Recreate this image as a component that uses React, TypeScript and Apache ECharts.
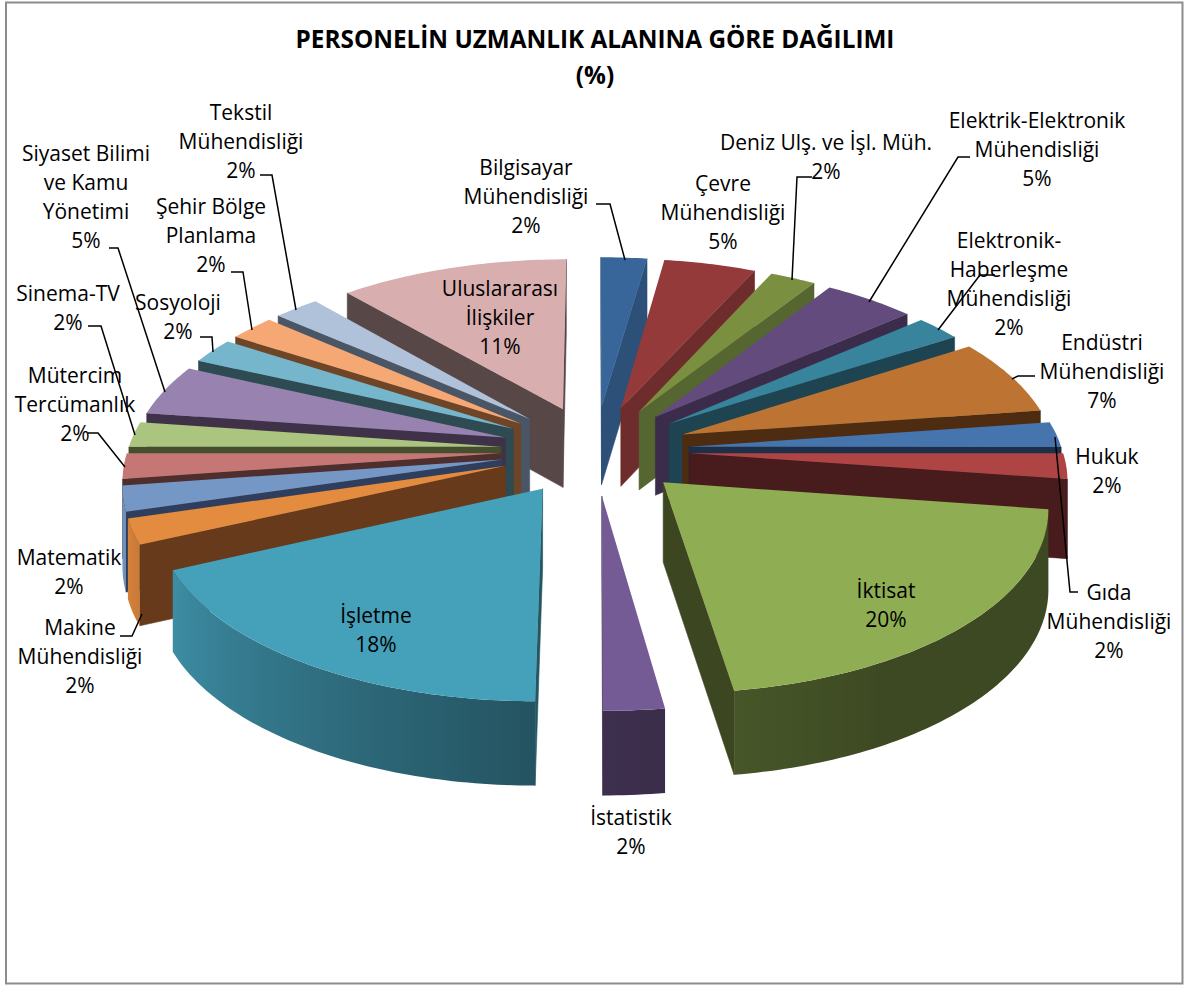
import React, { useEffect, useRef } from "react";
import * as echarts from "echarts";

const TITLE = "PERSONELİN UZMANLIK ALANINA GÖRE DAĞILIMI\n(%)";
const NAMES = [
  "Bilgisayar\nMühendisliği", "Çevre\nMühendisliği", "Deniz Ulş. ve İşl. Müh.",
  "Elektrik-Elektronik\nMühendisliği", "Elektronik-\nHaberleşme\nMühendisliği", "Endüstri\nMühendisliği",
  "Gıda\nMühendisliği", "Hukuk", "İktisat", "İstatistik", "İşletme", "Makine\nMühendisliği", "Matematik",
  "Mütercim\nTercümanlık", "Sinema-TV", "Siyaset Bilimi\nve Kamu\nYönetimi", "Sosyoloji",
  "Şehir Bölge\nPlanlama", "Tekstil\nMühendisliği", "Uluslararası\nİlişkiler",
];
const VALUES = [2.27, 4.55, 2.27, 4.55, 2.27, 6.82, 2.27, 2.27, 20.45, 2.27, 18.18, 2.27, 2.27, 2.27, 2.27, 4.55, 2.27, 2.27, 2.27, 11.36];
const TOP_COLORS = ["#38659A", "#953A3A", "#7A9040", "#634C7D", "#37849C", "#BD7433", "#4674AD", "#AE4544", "#8FAD52", "#755B95", "#45A0BA", "#E38B3E", "#7597C5", "#C47775", "#ABC47F", "#9882B0", "#76B6CC", "#F6A874", "#B0C1DA", "#D8AEAE"];
const WALL_COLORS = ["#2C5078", "#6F2C2C", "#556630", "#3C2C4B", "#1D4450", "#4E2C12", "#1E3049", "#481B1C", "#3C4620", "#3D2C4D", "#255763", "#663A1B", "#2E3E5C", "#4F2E2E", "#454F2F", "#3F3248", "#2E4B54", "#6E4526", "#4A5566", "#574747"];
// label centre x, first line centre y
const LABEL_POS: number[][] = [[526, 167], [723, 183], [826, 142], [1037, 120], [1009, 240], [1102, 342], [1109, 592], [1107, 456], [886, 590], [631, 817], [376, 615], [80, 627], [69, 557], [75, 375], [68, 293], [86, 153], [178, 302], [211, 206], [241, 112], [500, 288]];
const LEADERS: number[][][] = [
  [[596, 204], [610, 204], [625, 260]],
  [[812, 177], [797, 177], [792, 280]],
  [[970, 157], [958, 157], [869, 302]],
  [[995, 275], [980, 275], [938, 330]],
  [[1035, 376], [1018, 376], [1012, 379]],
  [[1055, 437], [1070, 592], [1078, 592]],
  [[260, 175], [272, 175], [296, 310]],
  [[231, 272], [243, 272], [252, 330]],
  [[200, 337], [212, 337], [213, 352]],
  [[109, 248], [118, 248], [165, 392]],
  [[88, 326], [101, 326], [135, 435]],
  [[88, 433], [98, 433], [125, 467]],
  [[120, 636], [132, 636], [142, 614]],
];

const CX = 595, CY = 450, A = 373, B = 177, K = 0.12, EXPLODE = 0.253, DEPTH = 79;
const FONT = "'Open Sans', Lato, sans-serif";

const total = VALUES.reduce((a, b) => a + b, 0);
const starts: number[] = [];
VALUES.reduce((acc, v, i) => { starts[i] = acc; return acc + v; }, 0);

function project(X: number, Y: number, low: boolean): number[] {
  const s = 1 / (1 - K * Y);
  const d = low ? DEPTH * (0.6 + 0.4 * s) : 0;
  return [CX + A * X * s, CY + B * Y * s + d];
}
function shade(deg: number): number {
  const stops = [[0, 0.42], [150, 0.42], [172, 0.5], [180, 0.52], [245, 0.88], [262, 1], [360, 1]];
  for (let i = 1; i < stops.length; i++) {
    if (deg <= stops[i][0]) {
      const t = (deg - stops[i - 1][0]) / (stops[i][0] - stops[i - 1][0]);
      return stops[i - 1][1] + t * (stops[i][1] - stops[i - 1][1]);
    }
  }
  return 1;
}
function darken(hex: string, f: number): string {
  const n = parseInt(hex.slice(1), 16);
  const c = [(n >> 16) & 255, (n >> 8) & 255, n & 255].map((v) => Math.round(v * f));
  return `rgb(${c[0]},${c[1]},${c[2]})`;
}

function renderSlice(params: any, api: any) {
  const i = params.dataIndex;
  const value = api.value(0);
  const a0 = (starts[i] / total) * 360;
  const a1 = a0 + (value / total) * 360;
  const mid = ((a0 + a1) / 2) * Math.PI / 180;
  const ox = Math.sin(mid) * EXPLODE, oy = -Math.cos(mid) * EXPLODE;
  const order = Math.round((oy / EXPLODE + 1) * 1000);
  const angs: number[] = [];
  const n = Math.max(2, Math.ceil(a1 - a0));
  for (let k = 0; k <= n; k++) angs.push(a0 + ((a1 - a0) * k) / n);
  const ground = angs.map((d) => {
    const r = (d * Math.PI) / 180;
    return [ox + Math.sin(r), oy - Math.cos(r)];
  });
  const pt = (g: number[], low: boolean) => project(g[0], g[1], low);
  const children: any[] = [];
  const apex = [ox, oy];
  const wall = (p: number[], q: number[], fill: string, z: number) => {
    const a = pt(p, false), b = pt(q, false);
    if (b[0] >= a[0]) return;
    children.push({
      type: "polygon", z2: order * 10 + z,
      shape: { points: [a, b, pt(q, true), pt(p, true)] },
      style: { fill, stroke: fill, lineWidth: 0.6 },
    });
  };
  wall(apex, ground[0], WALL_COLORS[i], 1);
  wall(ground[ground.length - 1], apex, WALL_COLORS[i], 1);

  // outer curved wall: the part facing the viewer, one polygon with a left-to-right shading gradient
  const vis: number[] = [];
  for (let k = 0; k <= n; k++) {
    const prevFront = k > 0 && pt(ground[k], false)[0] < pt(ground[k - 1], false)[0];
    const nextFront = k < n && pt(ground[k + 1], false)[0] < pt(ground[k], false)[0];
    if (prevFront || nextFront) vis.push(k);
  }
  if (vis.length > 1) {
    const tops = vis.map((k) => pt(ground[k], false));
    const bottoms = vis.map((k) => pt(ground[k], true));
    const xR = tops[0][0], xL = tops[tops.length - 1][0];
    const stops = vis.map((k, j) => ({
      offset: Math.min(1, Math.max(0, (tops[j][0] - xL) / (xR - xL))),
      color: darken(TOP_COLORS[i], shade(angs[k])),
    })).reverse();
    const fill = new echarts.graphic.LinearGradient(xL, 0, xR, 0, stops, true);
    children.push({
      type: "polygon", z2: order * 10 + 2,
      shape: { points: [...tops, ...bottoms.reverse()] },
      style: { fill },
    });
  }
  children.push({
    type: "polygon", z2: order * 10 + 3,
    shape: { points: [pt(apex, false), ...ground.map((g) => pt(g, false))] },
    style: { fill: TOP_COLORS[i] },
  });
  return { type: "group", children };
}

export default function App() {
  const ref = useRef<HTMLDivElement>(null);
  useEffect(() => {
    const chart = echarts.init(ref.current!, undefined, { renderer: "svg" });
    const labels = NAMES.map((name, i) => ({
      type: "text", z: 20, x: LABEL_POS[i][0], y: LABEL_POS[i][1] - 14.5,
      style: {
        text: `${name}\n${Math.round(VALUES[i])}%`, fontFamily: FONT, fontSize: 21, lineHeight: 29,
        fill: "#000", textAlign: "center", textVerticalAlign: "top",
      },
    }));
    const lines = LEADERS.map((pts) => ({
      type: "polyline", z: 19, shape: { points: pts }, style: { stroke: "#000", lineWidth: 1.5, fill: "none" },
    }));
    chart.setOption({
      animation: false,
      backgroundColor: "#fff",
      title: {
        text: TITLE, left: 590, top: 15, textAlign: "center",
        textStyle: { fontFamily: FONT, fontWeight: "bold", fontSize: 24.3, lineHeight: 36, color: "#000" },
      },
      graphic: [
        { type: "rect", z: 0, shape: { x: 6, y: 2.5, width: 1176.5, height: 981 }, style: { fill: "none", stroke: "#8C8C8C", lineWidth: 2 } },
        ...lines,
        ...labels,
      ],
      series: [{
        type: "custom", coordinateSystem: "none", silent: true,
        data: VALUES.map((v) => [v]),
        renderItem: renderSlice,
      }],
    });
    return () => chart.dispose();
  }, []);
  return <div ref={ref} style={{ position: "absolute", left: 0, top: 0, width: 1184, height: 985 }} />;
}
